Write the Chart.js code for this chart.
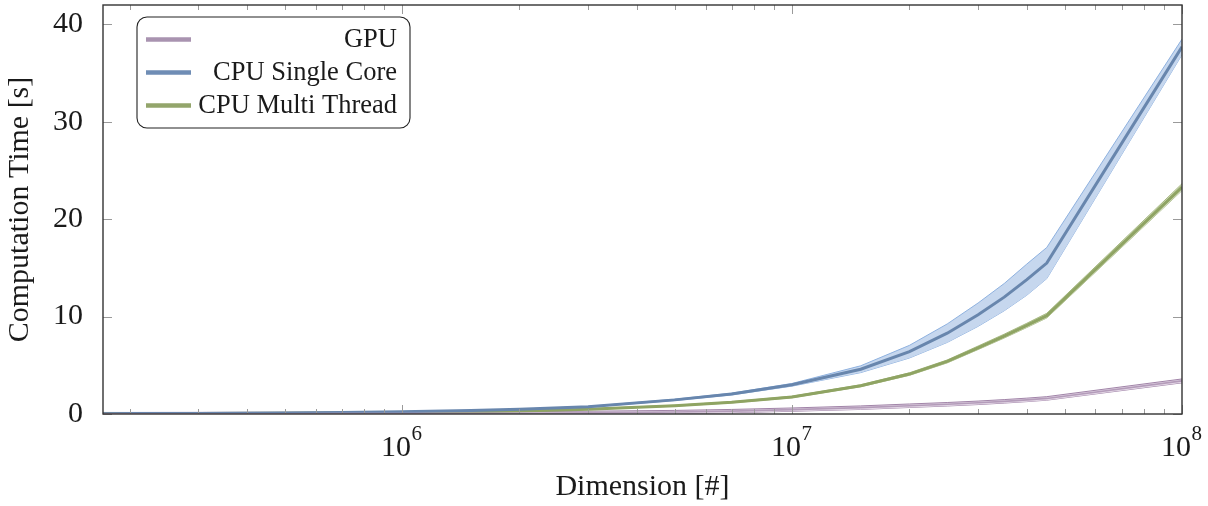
<!DOCTYPE html>
<html>
<head>
<meta charset="utf-8">
<script src="https://cdn.jsdelivr.net/npm/chart.js@4.4.1/dist/chart.umd.min.js"></script>
<style>
  html, body { margin: 0; padding: 0; background: #fff; }
  #wrap { width: 1208px; height: 506px; position: relative; }
</style>
</head>
<body>
<div id="wrap"><canvas id="c" width="1208" height="506"></canvas></div>
<script>
// ── Data ──────────────────────────────────────────────────────────────────────
const dims = [1.7e5, 2e5, 3e5, 5e5, 7e5, 1e6, 1.5e6, 2e6, 3e6, 5e6, 7e6, 1e7,
              1.5e7, 2e7, 2.5e7, 3e7, 3.5e7, 4e7, 4.5e7, 1e8];

const gpuMean  = [0.008, 0.01, 0.015, 0.025, 0.035, 0.05, 0.065, 0.08, 0.12, 0.2, 0.3, 0.45,
                  0.65, 0.85, 1.0, 1.15, 1.3, 1.45, 1.6, 3.4];
const gpuLow   = [-0.15, -0.15, -0.14, -0.13, -0.12, -0.11, -0.1, -0.09, -0.05, 0.03, 0.13, 0.28,
                  0.47, 0.67, 0.82, 0.97, 1.12, 1.27, 1.42, 3.2];
const gpuHigh  = [0.16, 0.16, 0.17, 0.18, 0.19, 0.21, 0.23, 0.25, 0.29, 0.37, 0.47, 0.62,
                  0.83, 1.03, 1.18, 1.33, 1.48, 1.63, 1.78, 3.6];

const singleMean = [0.03, 0.04, 0.06, 0.11, 0.16, 0.24, 0.36, 0.48, 0.74, 1.45, 2.05, 3.0,
                    4.6, 6.4, 8.3, 10.2, 12.0, 13.8, 15.5, 37.7];
const singleLow  = [0.02, 0.03, 0.05, 0.1, 0.15, 0.22, 0.34, 0.45, 0.7, 1.38, 1.96, 2.86,
                    4.25, 5.75, 7.35, 9.0, 10.6, 12.2, 13.9, 36.9];
const singleHigh = [0.04, 0.05, 0.07, 0.12, 0.17, 0.26, 0.38, 0.51, 0.78, 1.52, 2.14, 3.14,
                    4.95, 7.05, 9.25, 11.4, 13.4, 15.4, 17.1, 38.5];

const multiMean = [0.02, 0.025, 0.04, 0.07, 0.1, 0.15, 0.22, 0.3, 0.5, 0.85, 1.2, 1.75,
                   2.9, 4.1, 5.4, 6.8, 8.0, 9.1, 10.1, 23.3];
const multiLow  = [0.01, 0.015, 0.03, 0.06, 0.09, 0.13, 0.2, 0.27, 0.46, 0.8, 1.14, 1.67,
                   2.8, 3.97, 5.25, 6.62, 7.8, 8.88, 9.86, 22.95];
const multiHigh = [0.03, 0.035, 0.05, 0.08, 0.11, 0.17, 0.24, 0.33, 0.54, 0.9, 1.26, 1.83,
                   3.0, 4.23, 5.55, 6.98, 8.2, 9.32, 10.34, 23.65];

const xMajorTicks = [1e6, 1e7, 1e8];
const yTicks = [0, 10, 20, 30, 40];
const legendLabels = ['GPU', 'CPU Single Core', 'CPU Multi Thread'];

// ── Colours ──────────────────────────────────────────────────────────────────
const colGpu    = { line: '#b49cba', edge: '#a184a8', fill: '#e2d6e5', legend: '#a993b0' };
const colSingle = { line: '#6886ad', edge: '#8eb1df', fill: '#c6d7ee', legend: '#6f8db5' };
const colMulti  = { line: '#8fa463', edge: '#a8ba84', fill: '#d3dcc0', legend: '#93a56b' };

const FONT = "'Liberation Serif', 'Times New Roman', serif";
Chart.defaults.font.family = FONT;
Chart.defaults.color = '#1a1a1a';

function pts(arr) {
  return dims.map(function(d, i) { return { x: d, y: arr[i] }; });
}

function band(label, hi, lo, col) {
  return [
    { label: label + ' hi', data: pts(hi), fill: '+1', backgroundColor: col.fill,
      borderColor: col.edge, borderWidth: 1, pointRadius: 0, tension: 0, order: 2 },
    { label: label + ' lo', data: pts(lo), fill: false,
      borderColor: col.edge, borderWidth: 1, pointRadius: 0, tension: 0, order: 2 }
  ];
}

function meanLine(label, arr, col, w) {
  return { label: label, data: pts(arr), fill: false, borderColor: col.line,
           borderWidth: w, pointRadius: 0, tension: 0, order: 1 };
}

const datasets = []
  .concat(band('GPU', gpuHigh, gpuLow, colGpu))
  .concat(band('Single', singleHigh, singleLow, colSingle))
  .concat(band('Multi', multiHigh, multiLow, colMulti))
  .concat([
    meanLine('GPU', gpuMean, colGpu, 1.6),
    meanLine('CPU Single Core', singleMean, colSingle, 3),
    meanLine('CPU Multi Thread', multiMean, colMulti, 3)
  ]);

const X_LABEL_SHIFT = -6;

// ── Frame + inside ticks (pgfplots style) ────────────────────────────────────
const frameTicks = {
  id: 'frameTicks',
  afterDatasetsDraw(chart) {
    const ctx = chart.ctx, a = chart.chartArea, x = chart.scales.x, y = chart.scales.y;
    ctx.save();
    ctx.strokeStyle = '#9a9a9a';
    ctx.lineWidth = 1;
    function seg(x1, y1, x2, y2) { ctx.beginPath(); ctx.moveTo(x1, y1); ctx.lineTo(x2, y2); ctx.stroke(); }
    for (let e = 5; e <= 8; e++) {
      for (let m = 1; m <= 9; m++) {
        const v = m * Math.pow(10, e);
        if (v < x.min || v > x.max) continue;
        const px = Math.round(x.getPixelForValue(v)) + 0.5;
        const len = m === 1 ? 9 : 5;
        seg(px, a.bottom, px, a.bottom - len);
        seg(px, a.top, px, a.top + len);
      }
    }
    yTicks.forEach(function(v) {
      const py = Math.round(y.getPixelForValue(v)) + 0.5;
      seg(a.left, py, a.left + 9, py);
      seg(a.right, py, a.right - 9, py);
    });
    ctx.strokeStyle = '#333';
    ctx.lineWidth = 1.4;
    ctx.strokeRect(a.left, a.top, a.right - a.left, a.bottom - a.top);
    ctx.restore();
  },
  // exponents of the 10^n tick labels
  afterDraw(chart) {
    const ctx = chart.ctx, x = chart.scales.x;
    ctx.save();
    ctx.font = '30px ' + FONT;
    const w = ctx.measureText('10').width;
    ctx.font = '21px ' + FONT;
    ctx.fillStyle = '#1a1a1a';
    ctx.textAlign = 'left';
    ctx.textBaseline = 'alphabetic';
    xMajorTicks.forEach(function(v) {
      const cx = x.getPixelForValue(v) + X_LABEL_SHIFT;
      ctx.fillText(String(Math.round(Math.log10(v))), cx + w / 2 + 0.5, 440);
    });
    ctx.restore();
  }
};

// ── Legend box, top left inside the plot ─────────────────────────────────────
const boxLegend = {
  id: 'boxLegend',
  afterDraw(chart) {
    const ctx = chart.ctx;
    const bx = 137, by = 17, bw = 273, bh = 111, r = 10;
    ctx.save();
    ctx.fillStyle = '#fff';
    ctx.strokeStyle = '#222';
    ctx.lineWidth = 1.1;
    ctx.beginPath();
    ctx.roundRect(bx, by, bw, bh, r);
    ctx.fill();
    ctx.stroke();
    const cols = [colGpu.legend, colSingle.legend, colMulti.legend];
    ctx.font = '26.5px ' + FONT;
    ctx.textAlign = 'right';
    ctx.textBaseline = 'middle';
    legendLabels.forEach(function(lbl, i) {
      const ly = 39.5 + i * 33;
      ctx.strokeStyle = cols[i];
      ctx.lineWidth = 4.5;
      ctx.beginPath();
      ctx.moveTo(146, ly);
      ctx.lineTo(191, ly);
      ctx.stroke();
      ctx.fillStyle = '#1a1a1a';
      ctx.fillText(lbl, 397, ly + 1);
    });
    ctx.restore();
  }
};

new Chart(document.getElementById('c'), {
  type: 'line',
  data: { datasets: datasets },
  options: {
    responsive: false,
    animation: false,
    layout: { padding: { left: 0, top: 5, right: 26, bottom: 0 } },
    plugins: { legend: { display: false }, tooltip: { enabled: false } },
    scales: {
      x: {
        type: 'logarithmic',
        min: 1.71e5,
        max: 1e8,
        grid: { display: false },
        border: { display: false },
        afterBuildTicks: function(s) { s.ticks = xMajorTicks.map(function(v) { return { value: v }; }); },
        afterFit: function(s) { s.height = 92; s.paddingLeft = 0; s.paddingRight = 0; },
        ticks: {
          autoSkip: false, maxRotation: 0, padding: 8, labelOffset: X_LABEL_SHIFT,
          font: { size: 30 },
          callback: function() { return '10'; }
        },
        title: { display: true, text: 'Dimension [#]', font: { size: 30 }, padding: { top: 0, bottom: 1 } }
      },
      y: {
        min: 0,
        max: 42,
        grid: { display: false },
        border: { display: false },
        afterBuildTicks: function(s) { s.ticks = yTicks.map(function(v) { return { value: v }; }); },
        afterFit: function(s) { s.width = 103; s.paddingTop = 0; s.paddingBottom = 0; },
        ticks: { padding: 12, font: { size: 30 } },
        title: { display: true, text: 'Computation Time [s]', font: { size: 30 }, padding: { top: 2, bottom: 0 } }
      }
    }
  },
  plugins: [frameTicks, boxLegend]
});
</script>
</body>
</html>
